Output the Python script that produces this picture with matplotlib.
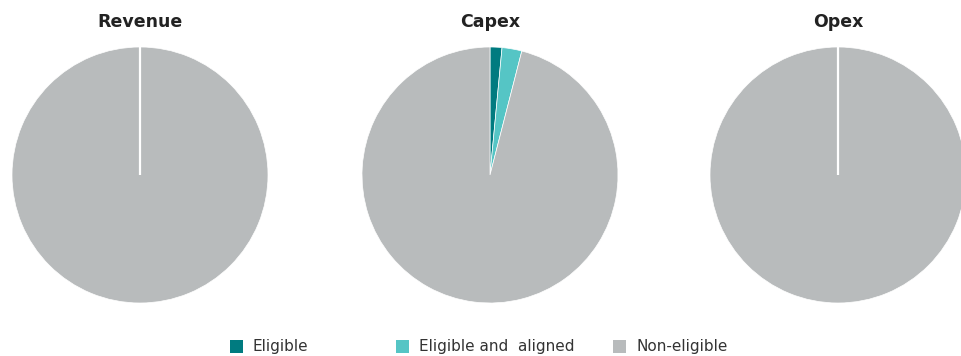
import matplotlib
matplotlib.use('Agg')
import matplotlib.pyplot as plt
from matplotlib.patches import Rectangle

plt.rcParams['font.family'] = ['DejaVu Sans']

titles = ['Revenue', 'Capex', 'Opex']
categories = ['Eligible', 'Eligible and  aligned', 'Non-eligible']
colors = ['#007b80', '#55c5c5', '#b8bbbc']
# share in % per chart: eligible, eligible and aligned, non-eligible
revenue = [0, 0, 100]
capex = [1.5, 2.5, 96]
opex = [0, 0, 100]
values = [revenue, capex, opex]

W, H = 962, 356
fig = plt.figure(figsize=(W / 100, H / 100), dpi=100)

centers_x = [140, 490, 838]
cy = 175
r = 128

for title, vals, cx in zip(titles, values, centers_x):
    ax = fig.add_axes([(cx - r) / W, (H - cy - r) / H, 2 * r / W, 2 * r / H])
    ax.pie(vals, colors=colors, startangle=90, counterclock=False, radius=1,
           wedgeprops=dict(edgecolor='white', linewidth=0.5))
    if sum(v > 0 for v in vals) == 1:
        # full circle: the original still shows a white seam at the start
        ax.plot([0, 0], [0, 1], color='white', lw=1.6, solid_capstyle='butt')
    ax.set_xlim(-1.0, 1.0)
    ax.set_ylim(-1.0, 1.0)
    ax.set_aspect('equal')
    ax.axis('off')
    fig.text(cx / W, 1 - 22 / H, title, ha='center', va='center',
             fontsize=12.5, fontweight='bold', color='#222222')

# legend
sq_x = [230, 396, 613]
sq = 13
ly = 346
for x, lab, col in zip(sq_x, categories, colors):
    fig.add_artist(Rectangle((x / W, (H - ly - sq / 2) / H), sq / W, sq / H,
                             transform=fig.transFigure, facecolor=col, edgecolor='none'))
    fig.text((x + sq + 10) / W, 1 - ly / H, lab, ha='left', va='center',
             fontsize=11, color='#333333')

fig.savefig('out.png', dpi=100)
